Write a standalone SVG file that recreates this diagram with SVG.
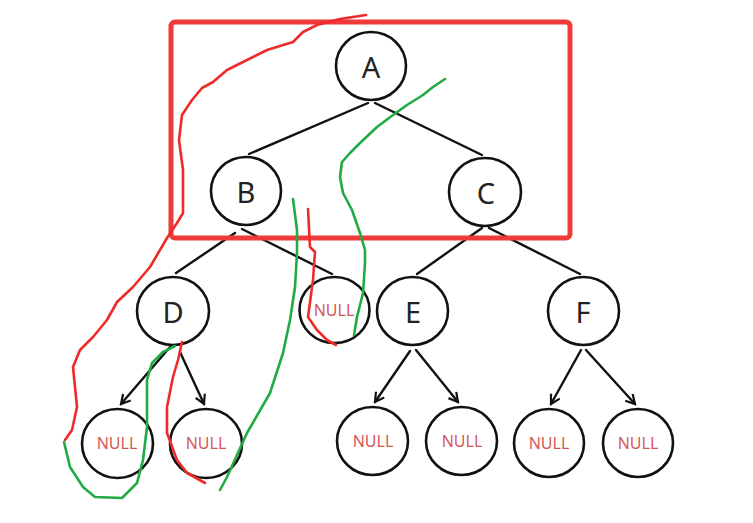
<svg xmlns="http://www.w3.org/2000/svg" width="753" height="523" viewBox="0 0 753 523">
<defs>
<style>
.n{fill:none;stroke:#111;stroke-width:2.6}
.e{fill:none;stroke:#111;stroke-width:2.4;stroke-linecap:round}
.lt{font-family:"Noto Sans","DejaVu Sans",sans-serif;font-size:29px;fill:#222;text-anchor:middle}
.nl{font-family:"Noto Sans","DejaVu Sans",sans-serif;font-size:16px;fill:#d45858;text-anchor:middle}
.r{fill:none;stroke:#ee2b2b;stroke-width:2.6;stroke-linecap:round;stroke-linejoin:round}
.g{fill:none;stroke:#22aa44;stroke-width:2.6;stroke-linecap:round;stroke-linejoin:round}
</style>
<marker id="ah" viewBox="0 0 12 12" refX="10" refY="6" markerWidth="12" markerHeight="12" markerUnits="userSpaceOnUse" orient="auto">
<path d="M1,1 L10,6 L1,11" fill="none" stroke="#111" stroke-width="2.2"/>
</marker>
</defs>
<rect width="753" height="523" fill="#fff"/>
<g id="connectors">
<line class="e" x1="368" y1="103" x2="249" y2="154"/>
<line class="e" x1="375" y1="103" x2="482" y2="155"/>
<line class="e" x1="235" y1="233" x2="176" y2="273"/>
<line class="e" x1="242" y1="229" x2="332" y2="274"/>
<line class="e" x1="482" y1="228" x2="417" y2="274"/>
<line class="e" x1="489" y1="228" x2="580" y2="274"/>
<line class="e" x1="170" y1="347" x2="121" y2="404" marker-end="url(#ah)"/>
<line class="e" x1="180" y1="352" x2="204" y2="404" marker-end="url(#ah)"/>
<line class="e" x1="410" y1="351" x2="375" y2="402" marker-end="url(#ah)"/>
<line class="e" x1="416" y1="350" x2="458" y2="402" marker-end="url(#ah)"/>
<line class="e" x1="581" y1="350" x2="551" y2="404" marker-end="url(#ah)"/>
<line class="e" x1="586" y1="350" x2="635" y2="404" marker-end="url(#ah)"/>
</g>
<g id="A"><ellipse class="n" cx="371" cy="66" rx="35" ry="34"/><text class="lt" x="371" y="78">A</text></g>
<g id="B"><ellipse class="n" cx="246" cy="191" rx="35" ry="34"/><text class="lt" x="246" y="203">B</text></g>
<g id="C"><ellipse class="n" cx="485" cy="192" rx="36" ry="34"/><text class="lt" x="486" y="204">C</text></g>
<g id="D"><ellipse class="n" cx="173" cy="311" rx="36" ry="34"/><text class="lt" x="173" y="323">D</text></g>
<g id="E"><ellipse class="n" cx="412.5" cy="311" rx="35.5" ry="34"/><text class="lt" x="413" y="323">E</text></g>
<g id="F"><ellipse class="n" cx="583.5" cy="311" rx="35.5" ry="34"/><text class="lt" x="583" y="323">F</text></g>
<g id="nullB"><ellipse class="n" cx="334.5" cy="310" rx="35" ry="33"/><text class="nl" x="334" y="316">NULL</text></g>
<g id="nullD1"><ellipse class="n" cx="117.5" cy="443.5" rx="35.5" ry="34.5"/><text class="nl" x="117" y="449">NULL</text></g>
<g id="nullD2"><ellipse class="n" cx="206" cy="443.5" rx="36" ry="34.5"/><text class="nl" x="206" y="449">NULL</text></g>
<g id="nullE1"><ellipse class="n" cx="372.5" cy="441" rx="35.5" ry="34"/><text class="nl" x="373" y="447">NULL</text></g>
<g id="nullE2"><ellipse class="n" cx="461.5" cy="441" rx="35.5" ry="34"/><text class="nl" x="462" y="447">NULL</text></g>
<g id="nullF1"><ellipse class="n" cx="549" cy="443" rx="35" ry="34"/><text class="nl" x="549" y="449">NULL</text></g>
<g id="nullF2"><ellipse class="n" cx="638" cy="443" rx="35" ry="34"/><text class="nl" x="638" y="449">NULL</text></g>
<rect x="171" y="22" width="399" height="216" rx="4" fill="none" stroke="#f03a3a" stroke-width="5"/>
<path class="r" d="M366,15 L340,19 L317,25 L303,32 L293,42 L267,50 L243,62 L227,70 L213,82 L202,88 L192,100 L182,115 L179,140 L183,170 L183,213 L177,223 L167,238 L150,267 L133,287 L117,302 L107,320 L93,337 L80,350 L73,367 L77,407 L72,430 L65,440"/>
<path class="g" d="M64,442 L70,467 L83,487 L95,497 L122,498 L137,483 L143,460 L147,427 L147,380 L152,363 L163,352 L175,346"/>
<path class="r" d="M182,342 L178,360 L173,377 L167,407 L167,433 L177,460 L187,473 L205,483"/>
<path class="g" d="M293,199 L297,230 L297,253 L295,287 L290,320 L283,353 L270,393 L247,433 L227,477 L220,490"/>
<path class="r" d="M308,209 L310,247 L315,252 L313,280 L308,317 L317,330 L327,340 L336,345"/>
<path class="g" d="M445,79 L433,87 L423,95 L407,105 L393,115 L377,127 L360,143 L350,153 L342,162 L340,177 L343,193 L352,210 L360,233 L365,250 L365,263 L363,293 L357,317 L354,335"/>
</svg>
